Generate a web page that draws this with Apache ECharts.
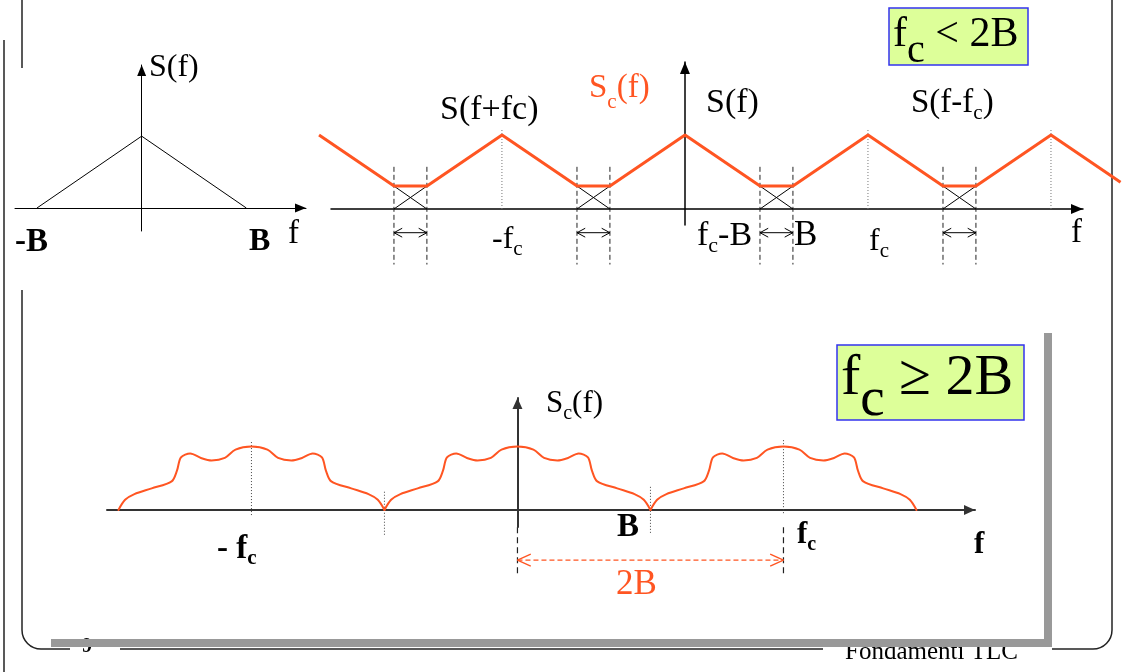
<!DOCTYPE html>
<html>
<head>
<meta charset="utf-8">
<script src="https://cdn.jsdelivr.net/npm/echarts@6/dist/echarts.min.js"></script>
<style>
html, body { margin: 0; padding: 0; background: #fff; }
#chart { width: 1122px; height: 672px; }
</style>
</head>
<body>
<div id="chart"></div>
<script>
// baseband spectrum S(f), f in units of B
const baseF = [-1, 0, 1];
const baseS = [0, 1, 0];

// fc < 2B : aliased spectrum Sc(f), f in units of fc
const aliasF = [-2, -1.59, -1.41, -1, -0.59, -0.41, 0, 0.41, 0.59, 1, 1.41, 1.59, 2, 2.38];
const aliasS = [1, 0.31, 0.31, 1, 0.31, 0.31, 1, 0.31, 0.31, 1, 0.31, 0.31, 1, 0.36];
const overlapBands = [[-1.59, -1.41], [-0.59, -0.41], [0.41, 0.59], [1.41, 1.59]];
const overlapLevel = 0.31;
const aliasPeaks = [-1, 1, 2];

// fc >= 2B : one spectral replica (f in units of B) repeated at the centres
const replicaF = [-1, -0.95, -0.88, -0.75, -0.6, -0.56, -0.53, -0.46, -0.38, -0.3, -0.2, -0.12, 0,
                  0.12, 0.2, 0.3, 0.38, 0.46, 0.53, 0.56, 0.6, 0.75, 0.88, 0.95, 1];
const replicaS = [0, 0.16, 0.25, 0.34, 0.45, 0.62, 0.83, 0.89, 0.82, 0.78, 0.82, 0.95, 1,
                  0.95, 0.82, 0.78, 0.82, 0.89, 0.83, 0.62, 0.45, 0.34, 0.25, 0.16, 0];
const replicaCentres = [-2, 0, 2];
const cuspMarks = [-1, 1];
const fc = 2;

// texts
const baseLabels = ['S(f)', '-B', 'B', 'f'];
const aliasLabels = ['S(f+fc)', 'S_c(f)', 'S(f)', 'S(f-f_c)', '-f_c', 'f_c-B', 'B', 'f_c', 'f'];
const sampledLabels = ['S_c(f)', '- f_c', 'B', 'f_c', 'f', '2B'];
const conditionLabels = ['f_c < 2B', 'f_c \u2265 2B'];
const footerLabels = ['9', 'Fondamenti TLC'];

const SERIF = "'Liberation Serif', 'Times New Roman', serif";
const ORANGE = '#ff5522';

const chart = echarts.init(document.getElementById('chart'));

function axisPair(gi, xr, yr, color, width, arrow, show) {
    const line = () => ({
        show: show, onZero: true,
        symbol: ['none', 'triangle'], symbolSize: arrow, symbolOffset: [0, -arrow[1] / 2],
        lineStyle: { color: color, width: width }
    });
    const base = { type: 'value', gridIndex: gi, axisTick: { show: false }, axisLabel: { show: false }, splitLine: { show: false } };
    return {
        x: Object.assign({}, base, { min: xr[0], max: xr[1], axisLine: line() }),
        y: Object.assign({}, base, { min: yr[0], max: yr[1], axisLine: line() })
    };
}

const A = [
    axisPair(0, [-1.21, 1.57], [-0.32, 1.99], '#000', 1, [9, 11], true),
    axisPair(1, [-1.934, 2.175], [-0.216, 1.986], '#000', 1.5, [10, 12], true),
    axisPair(2, [-3.086, 3.44], [-0.268, 1.764], '#333', 2, [10, 11], true),
    // same scale as grid 1, wider, so the aliased curve can run past the axis ends
    axisPair(3, [-2.104, 2.388], [-0.216, 1.986], '#000', 1, [10, 12], false)
];

function seg(gi, pts, style, extra) {
    return Object.assign({
        type: 'line', xAxisIndex: gi, yAxisIndex: gi, data: pts,
        symbol: 'none', showSymbol: false, clip: false, silent: true, animation: false,
        lineStyle: style
    }, extra || {});
}

function doubleArrow(gi, x1, x2, y, dx, dy, style) {
    return [
        seg(gi, [[x1, y], [x2, y]], style),
        seg(gi, [[x1 + dx, y + dy], [x1, y], [x1 + dx, y - dy]], Object.assign({}, style, { type: 'solid' })),
        seg(gi, [[x2 - dx, y + dy], [x2, y], [x2 - dx, y - dy]], Object.assign({}, style, { type: 'solid' }))
    ];
}

const series = [];
// top-left
series.push(seg(0, baseF.map((f, i) => [f, baseS[i]]), { color: '#000', width: 1 }));
// top-right
const thin = { color: '#000', width: 1 };
overlapBands.forEach(([a, b]) => {
    series.push(seg(1, [[a, 0.57], [a, -0.75]], { color: '#222', width: 1, type: [5, 3] }));
    series.push(seg(1, [[b, 0.57], [b, -0.75]], { color: '#222', width: 1, type: [5, 3] }));
    series.push(seg(1, [[a, 0], [b, overlapLevel]], thin));
    series.push(seg(1, [[a, overlapLevel], [b, 0]], thin));
    doubleArrow(1, a, b, -0.32, 0.045, 0.06, thin).forEach(s => series.push(s));
});
aliasPeaks.forEach(p => series.push(seg(1, [[p, 0], [p, 1.08]], { color: '#777', width: 1, type: [1, 2] })));
series.push(seg(3, aliasF.map((f, i) => [f, aliasS[i]]), { color: ORANGE, width: 3 }, { z: 5 }));
// bottom
series.push(seg(2, [[-fc, -0.08], [-fc, 1.1]], { color: '#444', width: 1, type: [1, 2] }));
series.push(seg(2, [[fc, -0.05], [fc, 1.13]], { color: '#444', width: 1, type: [1, 2] }));
series.push(seg(2, [[cuspMarks[0], -0.39], [cuspMarks[0], 0.29]], { color: '#444', width: 1, type: [1, 2] }));
series.push(seg(2, [[cuspMarks[1], -0.36], [cuspMarks[1], 0.38]], { color: '#444', width: 1, type: [1, 2] }));
series.push(seg(2, [[0, -0.27], [0, -1.05]], { color: '#222', width: 1.2, type: [6, 4] }));
series.push(seg(2, [[fc, -0.27], [fc, -1.05]], { color: '#222', width: 1.2, type: [6, 4] }));
doubleArrow(2, 0, fc, -0.79, 0.1, 0.094, { color: ORANGE, width: 1.3, type: [5, 3] }).forEach(s => series.push(s));
replicaCentres.forEach(c => {
    series.push(seg(2, replicaF.map((f, i) => [c + f, replicaS[i]]), { color: ORANGE, width: 2, cap: 'round', join: 'round' },
        { smooth: 0.3, z: 5 }));
});

// text helpers
function richText(str) {
    return str.split(/_(\w)/).map((p, i) => p ? (i % 2 ? '{s|' : '{m|') + p + '}' : '').join('');
}
function label(str, o) {
    const w = o.bold ? 'bold' : 'normal';
    const col = o.color || '#000';
    const r = o.sub || 0.65;
    const pad = Math.round(o.size * (o.pad == null ? 0.6 : o.pad));
    return {
        type: 'text', x: o.x, y: o.y, z: 30, silent: true,
        style: {
            text: richText(str), align: 'left', verticalAlign: 'middle',
            textAlign: 'left', textVerticalAlign: 'middle', fill: col,
            rich: {
                m: { fontSize: o.size, fontFamily: SERIF, fontWeight: w, fill: col, color: col },
                s: { fontSize: Math.round(o.size * r), fontFamily: SERIF, fontWeight: w, fill: col, color: col, padding: [pad, 0, 0, 0] }
            }
        }
    };
}

const baseLayout = [
    { x: 149, y: 68, size: 32 }, { x: 15, y: 242, size: 33, bold: true },
    { x: 249, y: 242, size: 32, bold: true }, { x: 288, y: 234, size: 33 }
];
const aliasLayout = [
    { x: 440, y: 110, size: 34 }, { x: 589, y: 88, size: 33, color: ORANGE, pad: 0.85 },
    { x: 706, y: 103, size: 34 }, { x: 911, y: 103, size: 33 }, { x: 492, y: 240, size: 32 },
    { x: 697, y: 236, size: 34 }, { x: 794, y: 236, size: 35 }, { x: 869, y: 242, size: 32 },
    { x: 1071, y: 233, size: 33 }
];
const sampledLayout = [
    { x: 546, y: 404, size: 31 }, { x: 217, y: 549, size: 33, bold: true },
    { x: 617, y: 527, size: 33, bold: true }, { x: 797, y: 535, size: 31, bold: true },
    { x: 974, y: 545, size: 31, bold: true }, { x: 616, y: 585, size: 35, color: ORANGE }
];

const graphics = [];
const frame = { stroke: '#222', lineWidth: 1.5, fill: null };
[[[22, 0], [22, 68]], [[22, 290], [22, 630]], [[41, 649], [70, 649]], [[120, 649], [823, 649]],
 [[1052, 649], [1093, 649]], [[1112, 630], [1112, 0]], [[4, 40], [4, 672]]].forEach(p => {
    graphics.push({ type: 'polyline', shape: { points: p }, style: frame, silent: true, z: 1 });
});
graphics.push({ type: 'arc', shape: { cx: 41, cy: 630, r: 19, startAngle: Math.PI / 2, endAngle: Math.PI, clockwise: true }, style: frame, silent: true, z: 1 });
graphics.push({ type: 'arc', shape: { cx: 1093, cy: 630, r: 19, startAngle: 0, endAngle: Math.PI / 2, clockwise: true }, style: frame, silent: true, z: 1 });
graphics.push({ type: 'text', x: 82, y: 647, z: 2, silent: true, style: { text: footerLabels[0], font: 'bold 20px ' + SERIF, fill: '#000', verticalAlign: 'middle', textVerticalAlign: 'middle' } });
graphics.push({ type: 'text', x: 845, y: 652, z: 2, silent: true, style: { text: footerLabels[1], font: '25px ' + SERIF, fill: '#000', verticalAlign: 'middle', textVerticalAlign: 'middle' } });
graphics.push({ type: 'rect', shape: { x: 1044, y: 333, width: 8, height: 314 }, style: { fill: '#999' }, silent: true, z: 20 });
graphics.push({ type: 'rect', shape: { x: 51, y: 639, width: 1001, height: 8 }, style: { fill: '#999' }, silent: true, z: 20 });
// condition boxes
graphics.push({ type: 'rect', shape: { x: 889, y: 8, width: 139, height: 57 }, style: { fill: '#ddff99', stroke: '#3333ee', lineWidth: 1.5 }, silent: true, z: 20 });
graphics.push({ type: 'rect', shape: { x: 837, y: 345, width: 187, height: 75 }, style: { fill: '#ddff99', stroke: '#3333ee', lineWidth: 1.5 }, silent: true, z: 20 });
graphics.push(label(conditionLabels[0], { x: 893, y: 35, size: 42, sub: 0.95, pad: 0.75 }));
graphics.push(label(conditionLabels[1], { x: 841, y: 379, size: 58, sub: 0.95, pad: 0.75 }));

baseLabels.forEach((t, i) => graphics.push(label(t, baseLayout[i])));
aliasLabels.forEach((t, i) => graphics.push(label(t, aliasLayout[i])));
sampledLabels.forEach((t, i) => graphics.push(label(t, sampledLayout[i])));

chart.setOption({
    animation: false,
    backgroundColor: '#fff',
    grid: [
        { left: 15, top: 65, width: 291, height: 166 },
        { left: 331, top: 62, width: 752, height: 163 },
        { left: 107, top: 398, width: 868, height: 129 },
        { left: 300, top: 62, width: 822, height: 163 }
    ],
    xAxis: A.map(a => a.x),
    yAxis: A.map(a => a.y),
    series: series,
    graphic: { elements: graphics }
});
</script>
</body>
</html>
